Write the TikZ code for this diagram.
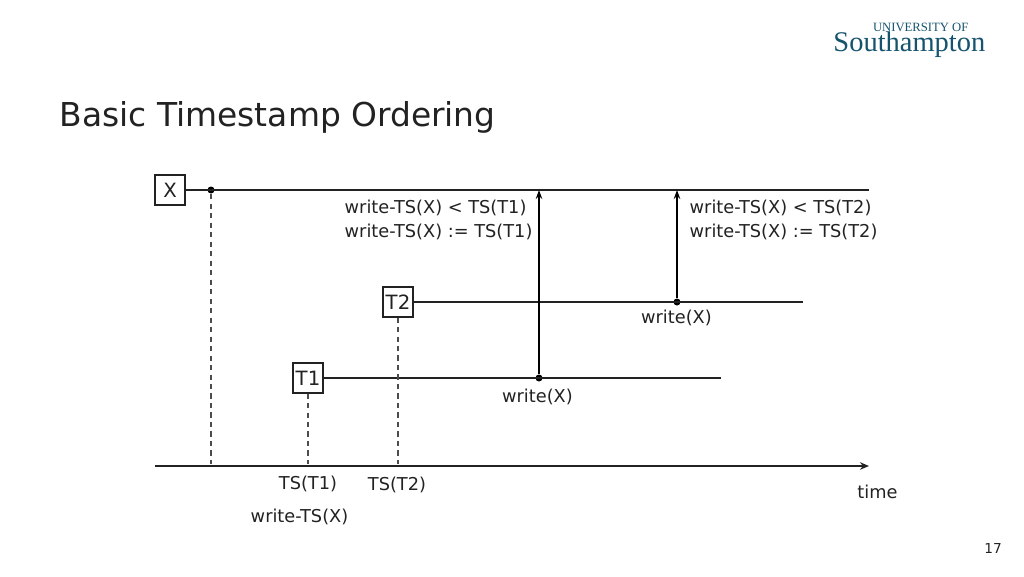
\documentclass[tikz,border=0pt]{standalone}
\usepackage{fontspec}
\setmainfont{DejaVu Sans}
\newfontfamily\logofont{Liberation Serif}
\usetikzlibrary{arrows.meta,positioning}
\definecolor{sotonblue}{RGB}{22,84,110}
\definecolor{inkgrey}{RGB}{34,34,34}
\tikzstyle{arrow} = [line width=0.35pt,-{Stealth[length=0.09cm,width=0.065cm]},color=black]
\tikzstyle{lifeline} = [line width=0.4pt,color=inkgrey]
\tikzstyle{dropline} = [line width=0.3pt,dash pattern=on 1.5pt off 1.2pt,color=black!70]
\tikzstyle{txbox} = [draw=inkgrey,line width=0.3pt,fill=white,text=inkgrey,minimum size=0.3cm,inner sep=0pt,font=\fontsize{5.6}{6}\selectfont]
\tikzstyle{blip} = [circle,fill=black,inner sep=0pt,minimum size=0.07cm]
\tikzstyle{lbl} = [inner sep=0pt,font=\fontsize{5.05}{6.83}\selectfont,color=inkgrey]

\begin{document}
\begin{tikzpicture}
\useasboundingbox (0,0) rectangle (10.24,5.76);

% Heading and logo
\node[inner sep=0pt,anchor=base west,font=\fontsize{9.36}{11}\selectfont,color=inkgrey] (title) at (0.59,4.50) {Basic Timestamp Ordering};
\node[inner sep=0pt,anchor=base east,font=\logofont\fontsize{3.6}{4}\selectfont,color=sotonblue] (uni) at (9.69,5.45) {UNIVERSITY OF};
\node[inner sep=0pt,anchor=base east,font=\logofont\fontsize{8.1}{9}\selectfont,color=sotonblue] (soton) at (9.86,5.25) {Southampton};
\node[lbl,font=\fontsize{3.9}{5}\selectfont] (page) at (9.93,0.28) {17};

% Boxes
\node[txbox] (X) at (1.70,3.86) {X};
\node[txbox] (T2) at (3.98,2.74) {T2};
\node[txbox] (T1) at (3.08,1.98) {T1};

% Points on the lines
\node[blip] (xdot) at (2.11,3.86) {};
\node[blip] (w2) at (6.77,2.74) {};
\node[blip] (w1) at (5.39,1.98) {};

\coordinate (xend) at (8.69,3.86);
\coordinate (t2end) at (8.03,2.74);
\coordinate (t1end) at (7.21,1.98);
\coordinate (axstart) at (1.55,1.10);
\coordinate (axend) at (8.69,1.10);
\coordinate (xfoot) at (2.11,1.12);
\coordinate (t1foot) at (3.08,1.12);
\coordinate (t2foot) at (3.98,1.12);
\coordinate (w1top) at (5.39,3.86);
\coordinate (w2top) at (6.77,3.86);

% Lines
\draw[lifeline] (X) -- (xend);
\draw[lifeline] (T2) -- (t2end);
\draw[lifeline] (T1) -- (t1end);
\draw[lifeline,-{Stealth[length=0.09cm,width=0.075cm]}] (axstart) -- (axend);

\draw[dropline] (xdot) -- (xfoot);
\draw[dropline] (T1) -- (t1foot);
\draw[dropline] (T2) -- (t2foot);

\draw[arrow] (w1) -- (w1top);
\draw[arrow] (w2) -- (w2top);

% Labels
\node[lbl,anchor=west,align=left] (cond1) at (3.44,3.56) {write-TS(X) < TS(T1)\\write-TS(X) := TS(T1)};
\node[lbl,anchor=west,align=left] (cond2) at (6.89,3.56) {write-TS(X) < TS(T2)\\write-TS(X) := TS(T2)};
\node[lbl] (wx2) at (6.765,2.58) {write(X)};
\node[lbl] (wx1) at (5.375,1.79) {write(X)};
\node[lbl] (ts1) at (3.08,0.925) {TS(T1)};
\node[lbl] (ts2) at (3.97,0.915) {TS(T2)};
\node[lbl] (wts) at (2.995,0.595) {write-TS(X)};
\node[lbl] (time) at (8.775,0.84) {time};
\end{tikzpicture}
\end{document}
